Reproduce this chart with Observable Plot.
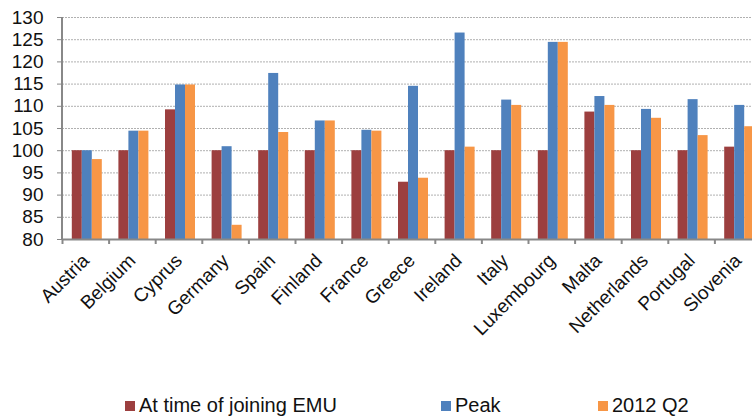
<!DOCTYPE html>
<html>
<head>
<meta charset="utf-8">
<script src="https://cdn.jsdelivr.net/npm/d3@7"></script>
<script src="https://cdn.jsdelivr.net/npm/@observablehq/plot@0.6"></script>
<style>
  body { margin: 0; background: #fff; font-family: "Liberation Sans", Arial, sans-serif; }
  #wrap { position: relative; width: 752px; height: 417px; overflow: hidden; }
  #legend { position: absolute; top: 394px; left: 0; width: 752px; height: 23px; font-size: 20px; color: #111; }
  .item { position: absolute; top: 0; display: flex; align-items: center; height: 23px; }
  .sw { width: 10px; height: 10px; margin-right: 4px; }
</style>
</head>
<body>
<div id="wrap"><div id="chart"></div><div id="legend"></div></div>
<script>
const countries = ["Austria","Belgium","Cyprus","Germany","Spain","Finland","France","Greece","Ireland","Italy","Luxembourg","Malta","Netherlands","Portugal","Slovenia"];
const joining = [100, 100, 109.2, 100, 100, 100, 100, 92.9, 100, 100, 100, 108.7, 100, 100, 100.8];
const peak    = [100, 104.4, 114.8, 100.9, 117.4, 106.7, 104.6, 114.5, 126.5, 111.4, 124.4, 112.2, 109.3, 111.5, 110.2];
const q2012   = [98.0, 104.4, 114.8, 83.2, 104.1, 106.7, 104.4, 93.8, 100.8, 110.2, 124.4, 110.2, 107.3, 103.4, 105.4];
const seriesNames = ["At time of joining EMU", "Peak", "2012 Q2"];
const seriesColors = ["#9c3f3f", "#4f81bd", "#f79646"];
const yTicks = [80, 85, 90, 95, 100, 105, 110, 115, 120, 125, 130];

const series = [joining, peak, q2012];
const x0 = 62, x1 = 761;
const step = (x1 - x0) / countries.length;
const barW = 10;
const inset = (step - barW) / 2;

const marks = [
  Plot.gridY(yTicks, {stroke: "#b0b0b0", strokeOpacity: 1, strokeDasharray: "2,1"}),
];
series.forEach((vals, i) => {
  const rows = countries.map((c, j) => ({country: c, value: vals[j]}));
  marks.push(Plot.barY(rows, {
    x: "country", y1: 80, y2: "value", fill: seriesColors[i],
    insetLeft: inset, insetRight: inset, dx: (i - 1) * barW + 1.5
  }));
});
marks.push(
  Plot.ruleY([80], {stroke: "#888", strokeWidth: 2}),
  Plot.axisY(yTicks, {tickSize: 5, tickPadding: 14, stroke: "#888", fontSize: 19, color: "#111", label: null}),
  Plot.axisX({tickSize: 5, tickFormat: null, dx: -step / 2, stroke: "#888", strokeWidth: 2, label: null}),
  Plot.axisX({tickSize: 0, tickPadding: 18, tickRotate: -45, fontSize: 19, color: "#111", label: null})
);

const plot = Plot.plot({
  width: 752,
  height: 392,
  marginTop: 17,
  marginBottom: 153,
  marginLeft: 62,
  marginRight: 0,
  style: {fontFamily: "'Liberation Sans', Arial, sans-serif", color: "#111", background: "#fff"},
  x: {type: "band", domain: countries, range: [x0, x1], padding: 0, round: false, label: null},
  y: {domain: [80, 130], ticks: yTicks, label: null},
  marks
});
document.getElementById("chart").appendChild(plot);
const svg = d3.select(plot);
svg.append("line").attr("x1", 62).attr("x2", 62).attr("y1", 17).attr("y2", 240).attr("stroke", "#888").attr("stroke-width", 2);

const legendPos = [125, 441, 598];
const legend = document.getElementById("legend");
seriesNames.forEach((n, i) => {
  const d = document.createElement("div");
  d.className = "item";
  d.style.left = legendPos[i] + "px";
  d.innerHTML = `<div class="sw" style="background:${seriesColors[i]}"></div><span>${n}</span>`;
  legend.appendChild(d);
});
</script>
</body>
</html>
